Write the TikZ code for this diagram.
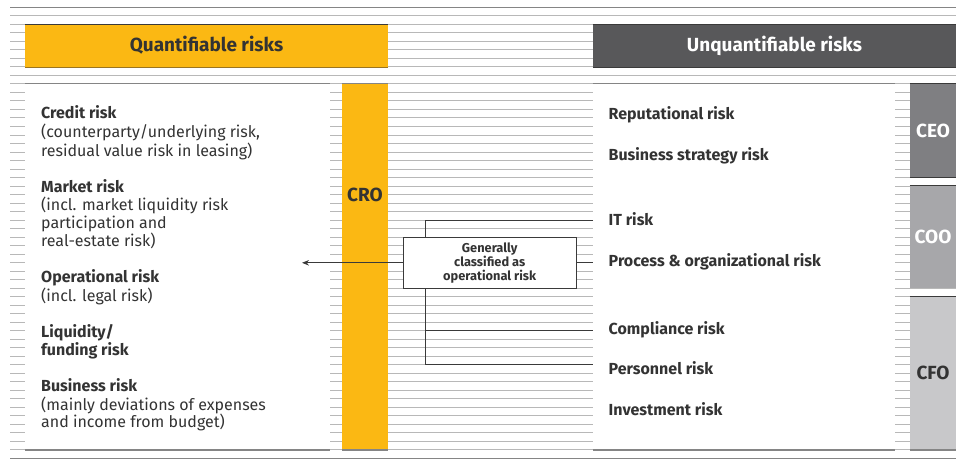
\documentclass[tikz,border=0pt]{standalone}
\usepackage{fontspec}
\setmainfont{Fira Sans}
\usetikzlibrary{arrows.meta}
\definecolor{qyellow}{HTML}{FBB813}
\definecolor{qyellowd}{HTML}{9A7420}
\definecolor{udark}{HTML}{58585A}
\definecolor{ceoc}{HTML}{7F7F82}
\definecolor{cooc}{HTML}{A7A7AA}
\definecolor{cfoc}{HTML}{C8C8CA}
\definecolor{txt}{HTML}{333333}
\definecolor{stripe}{HTML}{B8B8B8}
\definecolor{edgec}{HTML}{858585}
\definecolor{darkedge}{HTML}{3A3A3A}
\tikzset{
  stripeline/.style={stripe, line width=0.9pt},
  panel/.style={fill=white, draw=none, inner sep=0pt},
  hdr/.style={inner sep=0pt, font=\fontsize{19}{22}\selectfont\bfseries},
  bar/.style={inner sep=0pt, font=\fontsize{19}{22}\selectfont\bfseries},
  riskhead/.style={anchor=base west, inner sep=0pt, text=txt, font=\fontsize{16}{19}\selectfont\bfseries},
  riskbody/.style={anchor=base west, inner sep=0pt, text=txt, font=\fontsize{16}{19}\selectfont},
  genbox/.style={draw=darkedge, line width=0.9pt, fill=white, inner sep=0pt, align=center, text=txt, font=\fontsize{12.8}{14}\selectfont\bfseries},
  conn/.style={draw=darkedge, line width=0.9pt},
}
\begin{document}
\begin{tikzpicture}[x=1pt,y=-1pt]
\useasboundingbox (0,0) rectangle (956,461);
% background stripes
\foreach \k in {1,...,52} \draw[stripeline] (10,{7.3+\k*8.51}) -- (956,{7.3+\k*8.51});
\draw[edgec, line width=1pt] (10,7.3) -- (956,7.3);
\draw[edgec, line width=1pt] (10,458.33) -- (956,458.33);

% header boxes
\node[hdr, fill=qyellow, text=txt, minimum width=363pt, minimum height=42.55pt] (quant) at (206.5,45.6) {Quantifiable risks};
\node[hdr, fill=udark, text=white, minimum width=363pt, minimum height=42.55pt] (unquant) at (774.5,45.6) {Unquantifiable risks};
\draw[darkedge, line width=1pt] (quant.north west) -- (quant.north east);
\draw[qyellowd, line width=1pt] (quant.south west) -- (quant.south east);
\draw[darkedge, line width=1pt] (unquant.north west) -- (unquant.north east);
\draw[darkedge, line width=1pt] (unquant.south west) -- (unquant.south east);

% panels
\node[panel, minimum width=304.5pt, minimum height=365.93pt] (left) at (177.25,266.855) {};
\node[panel, fill=qyellow, minimum width=46pt, minimum height=365.93pt] (crobar) at (365,266.855) {};
\node[panel, minimum width=302pt, minimum height=365.93pt] (right) at (744,266.855) {};
\node[bar, fill=ceoc, text=white, minimum width=46pt, minimum height=93.61pt] (ceo) at (933,130.695) {CEO};
\node[bar, fill=cooc, text=white, minimum width=46pt, minimum height=102.12pt] (coo) at (933,237.07) {COO};
\node[bar, fill=cfoc, text=txt, minimum width=46pt, minimum height=153.18pt] (cfo) at (933,373.23) {CFO};
\foreach \n in {left,crobar,right}{
  \draw[edgec, line width=1.6pt] (\n.north west) -- (\n.north east);
  \draw[edgec, line width=1.6pt] (\n.south west) -- (\n.south east);
}
\foreach \n in {ceo,coo,cfo}{
  \draw[darkedge, line width=1pt] (\n.north west) -- (\n.north east);
}
\draw[darkedge, line width=1pt] (ceo.south west) -- (ceo.south east);
\draw[edgec, line width=1.6pt] (cfo.south west) -- (cfo.south east);
\node[bar, text=txt] (cro) at (365,195) {CRO};

% left texts
\node[riskhead] (credit) at (41,118.7) {Credit risk};
\node[riskbody] (credit1) at (41,137.5) {(counterparty/underlying risk,};
\node[riskbody] (credit2) at (41,156.2) {residual value risk in leasing)};
\node[riskhead] (market) at (41,192) {Market risk};
\node[riskbody] (market1) at (41,210.4) {(incl. market liquidity risk};
\node[riskbody] (market2) at (41,228.6) {participation and};
\node[riskbody] (market3) at (41,246.8) {real-estate risk)};
\node[riskhead] (oper) at (41,282.8) {Operational risk};
\node[riskbody] (oper1) at (41,301.7) {(incl. legal risk)};
\node[riskhead] (liq) at (41,337.3) {Liquidity/};
\node[riskhead] (liq1) at (41,355.5) {funding risk};
\node[riskhead] (bus) at (41,391.7) {Business risk};
\node[riskbody] (bus1) at (41,410) {(mainly deviations of expenses};
\node[riskbody] (bus2) at (41,427.8) {and income from budget)};

% right texts
\node[riskhead] (rep) at (608.5,119) {Reputational risk};
\node[riskhead] (strat) at (608.5,160) {Business strategy risk};
\node[riskhead] (it) at (608.5,225.8) {IT risk};
\node[riskhead] (proc) at (608.5,266.8) {Process \& organizational risk};
\node[riskhead] (comp) at (608.5,334) {Compliance risk};
\node[riskhead] (pers) at (608.5,374.5) {Personnel risk};
\node[riskhead] (inv) at (608.5,415.2) {Investment risk};

% generally classified box
\node[genbox, minimum width=172.7pt, minimum height=51pt] (gen) at (489.7,262.8) {Generally\\classified as\\operational risk};

% connectors
\coordinate (itend) at (593,220);
\coordinate (procend) at (593,262.8);
\coordinate (compend) at (593,330.7);
\coordinate (persend) at (593,364.3);
\coordinate (bustop) at (425.7,220);
\coordinate (busbot) at (425.7,364.3);
\coordinate (tip) at (302,262.8);
\draw[conn] (itend) -- (bustop) -- (bustop |- gen.north);
\draw[conn] (bustop |- gen.south) -- (busbot) -- (persend);
\draw[conn] (bustop |- compend) -- (compend);
\draw[conn] (gen.east) -- (procend);
\draw[conn, -{Stealth[length=7pt, width=5.5pt]}] (gen.west) -- (tip);
\end{tikzpicture}
\end{document}
